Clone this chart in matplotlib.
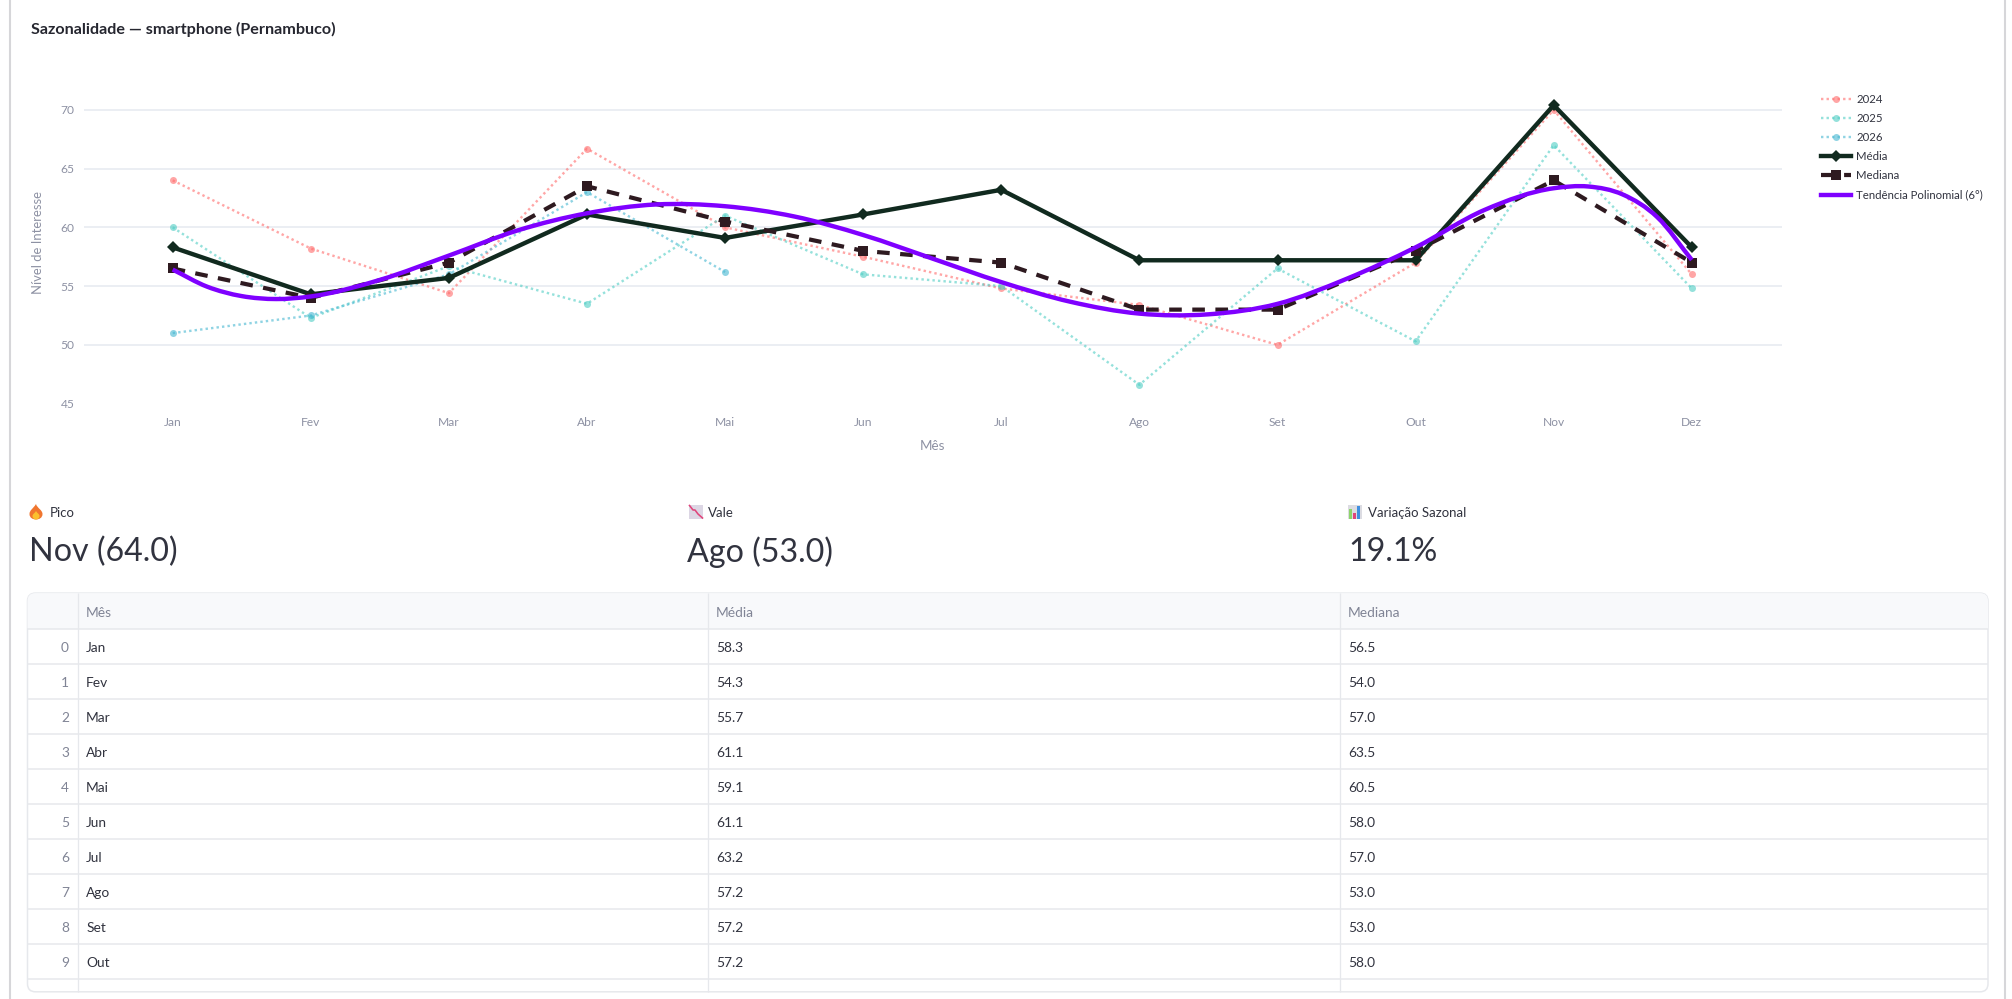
import numpy as np
import matplotlib
matplotlib.use("Agg")
import matplotlib.pyplot as plt
from matplotlib.lines import Line2D
from matplotlib.patches import FancyBboxPatch, PathPatch, Rectangle
from matplotlib.path import Path

# ---- data -------------------------------------------------------------
meses = ["Jan", "Fev", "Mar", "Abr", "Mai", "Jun", "Jul", "Ago", "Set", "Out", "Nov", "Dez"]
serie_2024 = [64.0, 58.2, 54.4, 66.7, 60.0, 57.5, 54.8, 53.4, 50.0, 57.0, 70.0, 56.0]
serie_2025 = [60.0, 52.3, 56.7, 53.5, 61.0, 56.0, 55.0, 46.6, 56.5, 50.3, 67.0, 54.8]
serie_2026 = [51.0, 52.5, 56.0, 63.0, 56.2]
media = [58.3, 54.3, 55.7, 61.1, 59.1, 61.1, 63.2, 57.2, 57.2, 57.2, 70.4, 58.3]
mediana = [56.5, 54.0, 57.0, 63.5, 60.5, 58.0, 57.0, 53.0, 53.0, 58.0, 64.0, 57.0]
tend_x = [0, 0.25, 0.5, 0.75, 1, 1.5, 2, 2.5, 3, 3.5, 4, 4.5, 5, 5.5, 6, 6.5, 7, 7.5,
          8, 8.5, 9, 9.5, 10, 10.25, 10.5, 10.75, 11]
tend_y = [56.41, 54.95, 54.15, 53.90, 54.12, 55.53, 57.60, 59.75, 61.20, 61.95, 61.80, 60.93,
          59.35, 57.35, 55.34, 53.67, 52.66, 52.60, 53.49, 55.62, 58.30, 61.49, 63.33, 63.48,
          62.80, 60.87, 57.23]

LINHAS_VISIVEIS = 10

W, H = 2012, 999
TXT = "#31333f"
CINZA = "#808495"
GRADE = "#e7ebf1"
COR_MEDIA = "#112a1f"
COR_MEDIANA = "#2e1a20"
COR_TEND = "#7f00ff"
FONTE = "Lato"
plt.rcParams["font.family"] = [FONTE, "DejaVu Sans"]


def pt(px):
    return px * 0.72


fig = plt.figure(figsize=(W / 100, H / 100), dpi=100, facecolor="white")

# ---- page overlay, in pixel coordinates --------------------------------
pg = fig.add_axes([0, 0, 1, 1], zorder=5)
pg.set_xlim(0, W)
pg.set_ylim(H, 0)
pg.axis("off")
pg.patch.set_alpha(0)

for x in (10.5, 2005):
    pg.plot([x, x], [0, H], color="#d6d6d9", lw=1.5, solid_capstyle="butt")

pg.text(31, 29, "Sazonalidade — smartphone (Pernambuco)", fontsize=pt(16.1), fontweight="bold",
        color="#262730", va="center", ha="left")

# ---- chart -------------------------------------------------------------
ax_l, ax_r, ax_t, ax_b = 83.5, 1782, 70, 403.6
ax = fig.add_axes([ax_l / W, 1 - ax_b / H, (ax_r - ax_l) / W, (ax_b - ax_t) / H], zorder=2)
ax.set_xlim((ax_l - 172.7) / 138.1, (ax_r - 172.7) / 138.1)
ax.set_ylim(45, 70 + (109.9 - ax_t) / 11.75)
for s in ax.spines.values():
    s.set_visible(False)
ax.set_yticks([45, 50, 55, 60, 65, 70])
ax.set_xticks(range(12), meses)
ax.tick_params(length=0, labelsize=pt(12), labelcolor="#8d91a3")
ax.tick_params(axis="y", pad=pt(9))
ax.tick_params(axis="x", pad=pt(13))
ax.grid(axis="y", color=GRADE, lw=pt(1.6))
ax.yaxis.get_gridlines()[0].set_visible(False)
ax.set_axisbelow(True)
ax.set_xlabel("Mês", fontsize=pt(13.5), color="#8d91a3", labelpad=pt(12.5))
ax.set_ylabel("Nível de Interesse", fontsize=pt(13), color="#8d91a3", va="center")
ax.yaxis.set_label_coords((37.6 - ax_l) / (ax_r - ax_l), 1 - (243 - ax_t) / (ax_b - ax_t))

x_mes = np.arange(12)
anos = [("2024", serie_2024, "#ff6b6b"), ("2025", serie_2025, "#4ecdc4"), ("2026", serie_2026, "#45b7d1")]
handles = []
for nome, valores, cor in anos:
    ln, = ax.plot(x_mes[:len(valores)], valores, color=cor, alpha=0.6, lw=pt(2.4),
                  ls=(0, (1.0, 1.3)), marker="o", ms=pt(7), mew=0, label=nome)
    handles.append(ln)

ln, = ax.plot(x_mes, media, color=COR_MEDIA, lw=pt(4.4), marker="D", ms=pt(8.5), mew=0,
              label="Média", solid_joinstyle="miter")
handles.append(ln)
ln, = ax.plot(x_mes, mediana, color=COR_MEDIANA, lw=pt(4.2), ls=(0, (3.0, 2.5)), marker="s",
              ms=pt(10), mew=0, label="Mediana")
handles.append(ln)

# Trend curve: Hermite segments through the tabulated trend values
tx = np.array(tend_x, dtype=float)
ty = np.array(tend_y, dtype=float)
dy = np.gradient(ty, tx)
verts = [(tx[0], ty[0])]
codes = [Path.MOVETO]
for i in range(len(tx) - 1):
    h = tx[i + 1] - tx[i]
    verts += [(tx[i] + h / 3, ty[i] + dy[i] * h / 3),
              (tx[i + 1] - h / 3, ty[i + 1] - dy[i + 1] * h / 3),
              (tx[i + 1], ty[i + 1])]
    codes += [Path.CURVE4] * 3
ax.add_patch(PathPatch(Path(verts, codes), fill=False, edgecolor=COR_TEND, lw=pt(4.4), capstyle="butt", zorder=4))
handles.append(Line2D([], [], color=COR_TEND, lw=pt(4.4), label="Tendência Polinomial (6°)"))

fs_leg = pt(11.4)
px_em = fs_leg / 0.72
leg = ax.legend(handles=handles, loc="upper left", frameon=False, fontsize=fs_leg,
                bbox_to_anchor=(1821 / W, 1 - 94.3 / H), bbox_transform=fig.transFigure,
                borderaxespad=0, borderpad=0, handlelength=30 / px_em, handletextpad=5 / px_em,
                labelspacing=(18.3 - px_em * 0.9) / px_em, numpoints=1, labelcolor=TXT)

# ---- KPIs --------------------------------------------------------------
i_pico = int(np.argmax(mediana))
i_vale = int(np.argmin(mediana))
variacao = (mediana[i_pico] - mediana[i_vale]) / np.mean(mediana) * 100
kpis = [(49.3, 29.3, "Pico", f"{meses[i_pico]} ({mediana[i_pico]:.1f})"),
        (708.3, 686.7, "Vale", f"{meses[i_vale]} ({mediana[i_vale]:.1f})"),
        (1367.7, 1348, "Variação Sazonal", f"{variacao:.1f}%")]
for xl, xv, rot, val in kpis:
    pg.text(xl, 513, rot, fontsize=pt(13.2), color=TXT, va="center", ha="left")
    pg.text(xv, 552, val, fontsize=pt(32.3), color=TXT, va="center", ha="left")

# Flame icon
chama = Path([(36, 504), (37, 508), (42.5, 510), (42.5, 514), (42.5, 518), (39, 519.5), (36, 519.5),
              (33, 519.5), (29.5, 518), (29.5, 514), (29.5, 510), (33, 509), (36, 504)],
             [Path.MOVETO] + [Path.CURVE4] * 12)
pg.add_patch(PathPatch(chama, fc="#f0762f", ec="none"))
miolo = Path([(36, 511), (37, 513), (39.5, 514), (39.5, 516), (39.5, 518.5), (37.5, 519.5), (36, 519.5),
              (34.5, 519.5), (32.5, 518.5), (32.5, 516), (32.5, 514), (35, 513), (36, 511)],
             [Path.MOVETO] + [Path.CURVE4] * 12)
pg.add_patch(PathPatch(miolo, fc="#fbc02d", ec="none"))

# Falling-chart icon
pg.add_patch(Rectangle((689, 505), 14, 14, fc="#dcd6e4", ec="none"))
pg.plot([689.5, 693, 695, 698, 702.5], [505.5, 510, 510, 514, 518], color="#e0457b", lw=pt(1.6))

# Bar-chart icon
pg.add_patch(Rectangle((1348, 505), 14, 14, fc="#dcdce2", ec="none"))
pg.add_patch(Rectangle((1349.5, 509), 3, 10, fc="#8ed46b", ec="none"))
pg.add_patch(Rectangle((1353.5, 513), 3, 6, fc="#e0457b", ec="none"))
pg.add_patch(Rectangle((1357.5, 506), 3, 13, fc="#3f8fe0", ec="none"))

# ---- table -------------------------------------------------------------
t_l, t_r, t_t, t_b = 27.5, 1988, 593.1, 991.8
y_cab = 629.1
alt = 35.0
borda = "#e6e8ec"
caixa = FancyBboxPatch((t_l, t_t), t_r - t_l, t_b - t_t, boxstyle="round,pad=0,rounding_size=8",
                       fc="white", ec=borda, lw=pt(1.5), zorder=1)
pg.add_patch(caixa)
cab = Rectangle((t_l, t_t), t_r - t_l, y_cab - t_t, fc="#f8f9fb", ec="none", zorder=1.1)
cab.set_clip_path(caixa)
pg.add_patch(cab)
for i in range(LINHAS_VISIVEIS + 1):
    y = y_cab + i * alt
    pg.plot([t_l, t_r], [y, y], color=borda, lw=pt(1.5), zorder=1.2, solid_capstyle="butt")
for x in (78.2, 708.3, 1339.6):
    pg.plot([x, x], [t_t, t_b], color=borda, lw=pt(1.3), zorder=1.2, solid_capstyle="butt")

fs_t = pt(13.7)
col_x = (86.2, 715.8, 1348.2)
for x, nome in zip(col_x, ("Mês", "Média", "Mediana")):
    pg.text(x, 612.8, nome, fontsize=fs_t, color=CINZA, va="center", ha="left", zorder=2)
for i in range(LINHAS_VISIVEIS):
    y = y_cab + (i + 0.5) * alt + 1
    pg.text(69, y, str(i), fontsize=fs_t, color=CINZA, va="center", ha="right", zorder=2)
    pg.text(col_x[0], y, meses[i], fontsize=fs_t, color=TXT, va="center", ha="left", zorder=2)
    pg.text(col_x[1], y, f"{media[i]:.1f}", fontsize=fs_t, color=TXT, va="center", ha="left", zorder=2)
    pg.text(col_x[2], y, f"{mediana[i]:.1f}", fontsize=fs_t, color=TXT, va="center", ha="left", zorder=2)

fig.savefig("out.png", dpi=100, facecolor="white")
